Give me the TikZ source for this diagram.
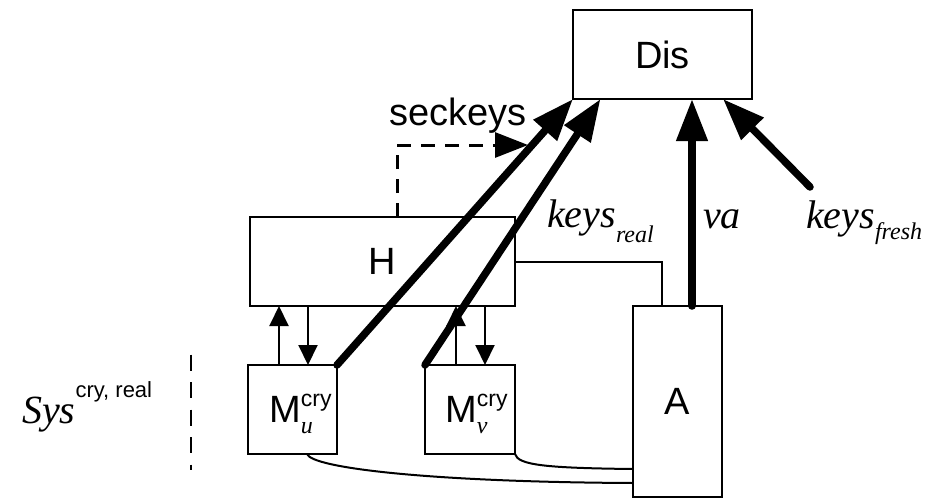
\documentclass[tikz,border=0pt]{standalone}
\usepackage{fontspec}
\setmainfont{Liberation Sans}
\newfontfamily\tmsfont{Liberation Serif}
\usetikzlibrary{arrows.meta}
\newcommand{\mcry}[1]{M\rlap{\raisebox{16pt}{\fontsize{23}{23}\selectfont cry}}\raisebox{-11pt}{\fontsize{24}{24}\selectfont\tmsfont\itshape #1}}
\begin{document}
\begin{tikzpicture}[x=1pt,y=-1pt,
  box/.style={draw, line width=2.2pt, inner sep=0pt, outer sep=0pt, font=\fontsize{38}{40}\selectfont},
  thinln/.style={line width=2pt},
  sarrow/.style={thinln, -{Triangle[length=20pt,width=19pt]}},
  bigarrow/.style={line width=7.5pt, line cap=round, -{Triangle[length=42pt,width=30pt]}},
  dasharrow/.style={line width=3pt, dash pattern=on 14pt off 10pt, -{Triangle[length=33pt,width=25pt]}},
  sysdash/.style={line width=2.2pt, dash pattern=on 16pt off 11.5pt},
  lbl/.style={inner sep=0pt, anchor=base west},
  sansbig/.style={font=\fontsize{38}{40}\selectfont},
  serifit/.style={font=\tmsfont\itshape\fontsize{40}{42}\selectfont},
]
\useasboundingbox (0,0) rectangle (931,498);

% boxes
\node[box, minimum width=179pt, minimum height=89pt] (Dis) at (662.5,54.5) {Dis};
\node[box, minimum width=265pt, minimum height=89pt] (H) at (382.5,261.5) {H};
\node[box, minimum width=89pt, minimum height=89pt] (Mu) at (292.5,409.5) {};
\node[box, minimum width=90pt, minimum height=89pt] (Mv) at (470,409.5) {};
\node[box, minimum width=89pt, minimum height=191pt] (A) at (677.5,401.5) {A};

\node[lbl, sansbig] (mut) at (269,422) {\mcry{u}};
\node[lbl, sansbig] (mvt) at (445,422) {\mcry{v}};

% H <-> M arrows
\coordinate (mu1) at ([xshift=-13.5pt]Mu.north);
\coordinate (mu2) at ([xshift=15.5pt]Mu.north);
\coordinate (mv1) at ([xshift=-14pt]Mv.north);
\coordinate (mv2) at ([xshift=15pt]Mv.north);
\draw[sarrow] (mu1) -- (mu1 |- H.south);
\draw[sarrow] (mu2 |- H.south) -- (mu2);
\draw[sarrow] (mv1) -- (mv1 |- H.south);
\draw[sarrow] (mv2 |- H.south) -- (mv2);

% thick arrows
\draw[bigarrow] (Mu.north east) -- (Dis.south west);
\draw[bigarrow] (Mv.north west) -- ([xshift=27.5pt]Dis.south west);
\coordinate (va) at ([xshift=14.5pt]A.north);
\draw[bigarrow] (va) -- (va |- Dis.south);
\coordinate (kf) at (810,187);
\draw[bigarrow] (kf) -- ([xshift=60.5pt]Dis.south);

% dashed seckeys
\coordinate (hd) at ([xshift=14.5pt]H.north);
\coordinate (sk) at (528,145);
\draw[dasharrow] (hd) |- (sk);

% H - A line
\draw[thinln] (H.east) -| ([xshift=-15.5pt]A.north);

% curves to A
\draw[thinln] ([xshift=14.5pt]Mu.south) .. controls (312,468) and (430,482) .. ([yshift=-81.5pt]A.west);
\draw[thinln] (Mv.south east) .. controls (518,465) and (545,468) .. ([yshift=-67.5pt]A.west);

% Sys dashed line
\coordinate (sd1) at (191,354.5);
\coordinate (sd2) at (191,469.5);
\draw[sysdash] (sd1) -- (sd2);

% labels
\node[lbl, sansbig] (seck) at (389,125) {seckeys};
\node[lbl, serifit] (kr) at (547,227) {keys\raisebox{-15pt}{\fontsize{24}{24}\selectfont real}};
\node[lbl, serifit] (vaL) at (703,228) {va};
\node[lbl, serifit] (kfL) at (806,228) {keys\raisebox{-11pt}{\fontsize{24}{24}\selectfont fresh}};
\node[lbl, serifit] (sys) at (22,423) {Sys\raisebox{26pt}{\normalfont\fontsize{22}{22}\selectfont cry, real}};
\end{tikzpicture}
\end{document}
